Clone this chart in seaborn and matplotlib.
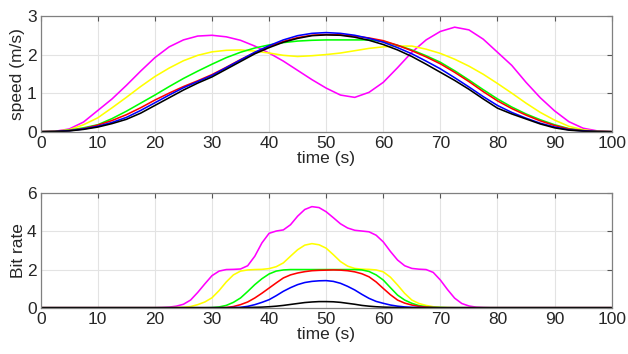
import numpy as np
import pandas as pd
import matplotlib
matplotlib.use("Agg")
import matplotlib.pyplot as plt
import seaborn as sns

# time grids (s)
t_speed = np.linspace(0, 100, 41)
t_rate = np.concatenate([[0], np.linspace(20, 80, 49), [100]])

# speed (m/s), sampled every 2.5 s
speed_magenta = [0, 0.01, 0.07, 0.25, 0.55, 0.85, 1.20, 1.57, 1.92, 2.20, 2.38, 2.48,
                 2.50, 2.46, 2.37, 2.22, 2.04, 1.83, 1.59, 1.35, 1.13, 0.95, 0.89, 1.02,
                 1.28, 1.66, 2.06, 2.38, 2.60, 2.71, 2.64, 2.40, 2.06, 1.72, 1.28, 0.88,
                 0.54, 0.26, 0.09, 0.02, 0]
speed_yellow = [0, 0.01, 0.05, 0.18, 0.36, 0.62, 0.89, 1.17, 1.43, 1.65, 1.84, 1.98,
                2.07, 2.11, 2.12, 2.09, 2.04, 1.98, 1.95, 1.97, 2.00, 2.04, 2.10, 2.16,
                2.20, 2.22, 2.22, 2.14, 2.03, 1.88, 1.70, 1.49, 1.25, 1.00, 0.74, 0.50,
                0.30, 0.14, 0.05, 0.01, 0]
speed_green = [0, 0.005, 0.04, 0.10, 0.18, 0.34, 0.53, 0.74, 0.95, 1.17, 1.38, 1.57,
               1.75, 1.92, 2.06, 2.17, 2.25, 2.31, 2.35, 2.37, 2.38, 2.38, 2.38, 2.38,
               2.34, 2.24, 2.12, 1.97, 1.80, 1.58, 1.34, 1.09, 0.85, 0.64, 0.46, 0.31,
               0.18, 0.08, 0.03, 0.006, 0]
speed_red = [0, 0.005, 0.03, 0.08, 0.17, 0.29, 0.44, 0.62, 0.82, 1.00, 1.17, 1.32,
             1.48, 1.67, 1.87, 2.05, 2.21, 2.34, 2.44, 2.50, 2.52, 2.51, 2.48, 2.43,
             2.36, 2.24, 2.10, 1.94, 1.76, 1.54, 1.30, 1.04, 0.80, 0.60, 0.43, 0.28,
             0.16, 0.07, 0.025, 0.005, 0]
speed_blue = [0, 0.005, 0.025, 0.07, 0.14, 0.24, 0.37, 0.55, 0.75, 0.95, 1.14, 1.30,
              1.46, 1.66, 1.86, 2.06, 2.23, 2.38, 2.49, 2.55, 2.57, 2.55, 2.50, 2.42,
              2.32, 2.18, 2.02, 1.83, 1.63, 1.40, 1.16, 0.91, 0.68, 0.50, 0.35, 0.22,
              0.12, 0.05, 0.02, 0.004, 0]
speed_black = [0, 0.005, 0.02, 0.06, 0.12, 0.21, 0.32, 0.48, 0.68, 0.88, 1.08, 1.26,
               1.42, 1.62, 1.82, 2.02, 2.18, 2.32, 2.42, 2.49, 2.51, 2.50, 2.45, 2.37,
               2.26, 2.12, 1.95, 1.75, 1.54, 1.33, 1.10, 0.85, 0.61, 0.46, 0.33, 0.20,
               0.10, 0.04, 0.015, 0.003, 0]

# bit rate, 0 s, then every 1.25 s from 20 to 80 s, then 100 s
rate_magenta = [0,
                0, 0.01, 0.03, 0.08, 0.18, 0.40, 0.80, 1.25,
                1.68, 1.92, 2.00, 2.01, 2.03, 2.20, 2.70, 3.40,
                3.90, 4.02, 4.08, 4.35, 4.80, 5.15, 5.30, 5.25,
                5.03, 4.72, 4.40, 4.18, 4.06, 4.02, 3.98, 3.80,
                3.45, 2.95, 2.50, 2.20, 2.06, 2.02, 2.00, 1.85,
                1.45, 0.95, 0.50, 0.22, 0.09, 0.03, 0.01, 0,
                0, 0]
rate_yellow = [0,
               0, 0, 0, 0.01, 0.02, 0.06, 0.16, 0.30,
               0.52, 0.90, 1.35, 1.72, 1.92, 1.98, 2.00, 2.01,
               2.05, 2.15, 2.35, 2.70, 3.04, 3.28, 3.36, 3.30,
               3.12, 2.78, 2.42, 2.18, 2.06, 2.02, 2.01, 1.98,
               1.88, 1.60, 1.19, 0.75, 0.40, 0.22, 0.12, 0.05,
               0.02, 0.01, 0, 0, 0, 0, 0, 0,
               0, 0]
rate_green = [0,
              0, 0, 0, 0, 0, 0, 0, 0,
              0.01, 0.04, 0.12, 0.28, 0.51, 0.85, 1.21, 1.52,
              1.77, 1.92, 1.98, 2.00, 2.00, 2.00, 2.00, 2.00,
              2.00, 2.00, 2.00, 2.00, 2.00, 1.98, 1.90, 1.72,
              1.45, 1.05, 0.66, 0.40, 0.23, 0.11, 0.05, 0.02,
              0.01, 0, 0, 0, 0, 0, 0, 0,
              0, 0]
rate_red = [0,
            0, 0, 0, 0, 0, 0, 0, 0,
            0, 0, 0.01, 0.06, 0.16, 0.30, 0.51, 0.76,
            1.03, 1.30, 1.56, 1.72, 1.82, 1.89, 1.94, 1.96,
            1.97, 1.98, 1.97, 1.94, 1.88, 1.78, 1.62, 1.35,
            1.01, 0.68, 0.40, 0.24, 0.14, 0.07, 0.03, 0.01,
            0, 0, 0, 0, 0, 0, 0, 0,
            0, 0]
rate_blue = [0,
             0, 0, 0, 0, 0, 0, 0, 0,
             0, 0, 0, 0.01, 0.02, 0.07, 0.16, 0.28,
             0.42, 0.63, 0.86, 1.05, 1.21, 1.32, 1.38, 1.41,
             1.42, 1.38, 1.28, 1.12, 0.93, 0.70, 0.49, 0.33,
             0.23, 0.14, 0.08, 0.04, 0.02, 0.01, 0, 0,
             0, 0, 0, 0, 0, 0, 0, 0,
             0, 0]
rate_black = [0,
              0, 0, 0, 0, 0, 0, 0, 0,
              0, 0, 0, 0, 0, 0.01, 0.02, 0.03,
              0.05, 0.08, 0.12, 0.17, 0.22, 0.27, 0.30, 0.32,
              0.32, 0.31, 0.28, 0.23, 0.18, 0.12, 0.08, 0.05,
              0.03, 0.02, 0.01, 0, 0, 0, 0, 0,
              0, 0, 0, 0, 0, 0, 0, 0,
              0, 0]

names = ["magenta", "yellow", "green", "red", "blue", "black"]
colors = {"magenta": "#ff00ff", "yellow": "#ffff00", "green": "#00ff00",
          "red": "#ff0000", "blue": "#0000ff", "black": "#000000"}
speeds = [speed_magenta, speed_yellow, speed_green, speed_red, speed_blue, speed_black]
rates = [rate_magenta, rate_yellow, rate_green, rate_red, rate_blue, rate_black]

df_speed = pd.concat([pd.DataFrame({"t": t_speed, "v": v, "run": n}) for n, v in zip(names, speeds)])
df_rate = pd.concat([pd.DataFrame({"t": t_rate, "v": v, "run": n}) for n, v in zip(names, rates)])

sns.set_style("white")
plt.rcParams["font.family"] = ["Liberation Sans", "DejaVu Sans"]

fig = plt.figure(figsize=(6.28, 3.54), dpi=100)
ax1 = fig.add_axes([0.0648, 0.628, 0.9092, 0.3268])
ax2 = fig.add_axes([0.0648, 0.1308, 0.9092, 0.3232])

for ax, df, ymax, yticks, ylabel in [(ax1, df_speed, 3, [0, 1, 2, 3], "speed (m/s)"),
                                     (ax2, df_rate, 6, [0, 2, 4, 6], "Bit rate")]:
    sns.lineplot(data=df, x="t", y="v", hue="run", palette=colors, legend=False,
                 linewidth=1.15, ax=ax, sort=False)
    ax.set_xlim(0, 100)
    ax.set_ylim(0, ymax)
    ax.set_xticks(range(0, 101, 10))
    ax.set_yticks(yticks)
    ax.set_xlabel("time (s)", fontsize=12.5, color="#262626", labelpad=0)
    ax.set_ylabel(ylabel, fontsize=12.5, color="#262626", labelpad=1)
    ax.grid(True, color="#e3e3e3", linewidth=0.8)
    ax.set_axisbelow(True)
    ax.tick_params(direction="in", length=3.5, width=0.8, colors="#555555",
                   labelcolor="#262626", labelsize=12.5, top=True, right=True, pad=3)
    for s in ax.spines.values():
        s.set_color("#808080")
        s.set_linewidth(0.9)

fig.savefig("out.png", dpi=100)
